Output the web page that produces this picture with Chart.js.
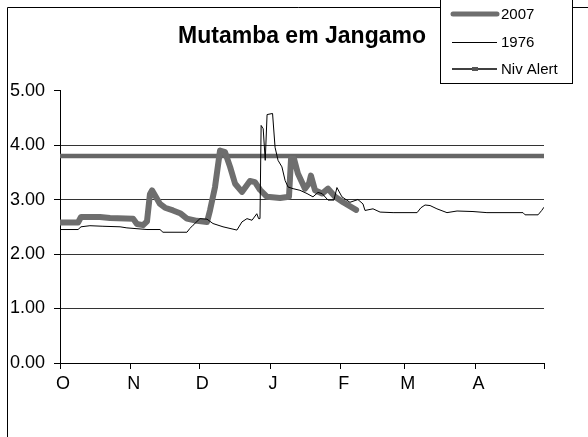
<!doctype html>
<html lang="pt">
<head>
<meta charset="UTF-8" />
<title>Mutamba em Jangamo</title>
<style>
  html, body { margin: 0; padding: 0; background: #fff; }
  #chart { display: block; }
</style>
</head>
<body>
<canvas id="chart" width="588" height="437"></canvas>
<script src="https://cdn.jsdelivr.net/npm/chart.js@4"></script>
<script>
    // x values are days counted from 1 October
    const MONTH_DAYS = [0, 31, 61, 92, 123, 151, 182, 212];
    const MONTH_LABELS = ['O', 'N', 'D', 'J', 'F', 'M', 'A', ''];

    const days2007 = [0, 7.9, 9.2, 17.5, 21.9, 32, 33.7, 36.4, 38.1, 39.4, 40.3, 43.8, 46, 49.5, 52.6,
        55.6, 60, 64.4, 65.7, 67.9, 70.1, 72.3, 74.5, 76.7, 79.7, 83.2, 85.4, 87.6, 90.7, 96.4,
        100.3, 101.2, 102.5, 104.2, 107.3, 109.1, 109.9, 111.7, 114.8, 117.4, 120.5, 124, 129.7];
    const level2007 = [2.58, 2.58, 2.68, 2.68, 2.66, 2.65, 2.55, 2.53, 2.60, 3.10, 3.17, 2.92, 2.85, 2.80, 2.75,
        2.65, 2.61, 2.59, 2.80, 3.23, 3.90, 3.87, 3.60, 3.29, 3.14, 3.34, 3.32, 3.18, 3.05, 3.03,
        3.05, 3.75, 3.75, 3.48, 3.20, 3.30, 3.44, 3.17, 3.11, 3.20, 3.05, 2.95, 2.81];

    const days1976 = [0, 7.9, 9.2, 13.1, 18.8, 26.3, 29.3, 38.1, 43.8, 45.1, 55.6, 56.9, 58.3, 61.3, 64.4,
        67, 71.4, 77.5, 79.7, 81.9, 84.1, 86.2, 87.0, 87.6, 88.1, 89.0, 89.9, 90.7, 93.1, 94.2,
        95.5, 97.2, 98.6, 99.9, 102.1, 105.1, 108.2, 110.8, 113, 114.8, 117.4, 120, 121.3, 123.5, 127,
        130.5, 132.7, 133.6, 137.1, 140.2, 145.9, 156.4, 158.1, 159.9, 162.1, 165.1, 169.5, 173.9, 180.9, 187,
        202.8, 203.7, 209.4, 211, 212];
    const level1976 = [2.45, 2.45, 2.50, 2.52, 2.51, 2.50, 2.48, 2.45, 2.45, 2.40, 2.40, 2.47, 2.53, 2.65, 2.64,
        2.56, 2.50, 2.44, 2.59, 2.65, 2.62, 2.74, 2.65, 2.65, 4.36, 4.30, 3.72, 4.56, 4.58, 3.96,
        3.72, 3.60, 3.35, 3.23, 3.20, 3.17, 3.11, 3.05, 3.13, 3.11, 2.99, 2.99, 3.22, 3.05, 2.95,
        3.00, 2.92, 2.80, 2.83, 2.77, 2.76, 2.76, 2.85, 2.90, 2.89, 2.83, 2.76, 2.79, 2.78, 2.76,
        2.76, 2.72, 2.72, 2.80, 2.86];

    const alertDays = [0, 212];
    const alertLevel = [3.8, 3.8];

    const FONT = '"Liberation Sans", Arial, sans-serif';

    function points(xs, ys) {
        return xs.map((x, i) => ({ x: x, y: ys[i] }));
    }

    // White page with the outer chart frame (left and top edges only show).
    const frame = {
        id: 'frame',
        beforeDraw(chart) {
            let c = chart.ctx;
            c.save();
            c.fillStyle = '#fff';
            c.fillRect(0, 0, chart.width, chart.height);
            c.strokeStyle = '#000';
            c.lineWidth = 1;
            c.beginPath();
            c.moveTo(7.5, chart.height + 2);
            c.lineTo(7.5, 7.5);
            c.lineTo(chart.width + 2, 7.5);
            c.stroke();
            c.restore();
        },
    };

    // Boxed legend in the top right corner.
    const boxLegend = {
        id: 'boxLegend',
        afterDraw(chart) {
            let c = chart.ctx;
            let rows = [14, 42, 69];
            c.save();
            c.fillStyle = '#fff';
            c.fillRect(440, -1, 133, 85);
            c.strokeStyle = '#000';
            c.lineWidth = 1;
            c.strokeRect(440.5, -1, 132, 84.5);

            // 2007
            c.strokeStyle = '#6e6e6e';
            c.lineWidth = 5;
            c.lineCap = 'round';
            c.beginPath();
            c.moveTo(453, rows[0]);
            c.lineTo(497, rows[0]);
            c.stroke();

            // 1976
            c.strokeStyle = '#000';
            c.lineWidth = 1;
            c.lineCap = 'butt';
            c.beginPath();
            c.moveTo(452, rows[1] + 0.5);
            c.lineTo(497, rows[1] + 0.5);
            c.stroke();

            // Niv Alert
            c.lineWidth = 1.5;
            c.beginPath();
            c.moveTo(452, rows[2]);
            c.lineTo(497, rows[2]);
            c.stroke();
            c.fillStyle = '#555';
            c.fillRect(472, rows[2] - 2, 6, 4);

            c.fillStyle = '#000';
            c.font = '15px ' + FONT;
            c.textBaseline = 'middle';
            let labels = ['2007', '1976', 'Niv Alert'];
            labels.forEach((t, i) => c.fillText(t, 501, rows[i] + 1));
            c.restore();
        },
    };

    const ctx = document.getElementById('chart');

    new Chart(ctx, {
        type: 'line',
        data: {
            datasets: [
                {
                    label: '1976',
                    data: points(days1976, level1976),
                    borderColor: '#000',
                    borderWidth: 1,
                    pointRadius: 0,
                    order: 0,
                },
                {
                    label: '2007',
                    data: points(days2007, level2007),
                    borderColor: '#6e6e6e',
                    borderWidth: 6,
                    borderJoinStyle: 'round',
                    borderCapStyle: 'round',
                    pointRadius: 0,
                    order: 1,
                },
                {
                    label: 'Niv Alert',
                    data: points(alertDays, alertLevel),
                    borderColor: '#666',
                    borderWidth: 4.5,
                    pointRadius: 0,
                    order: 2,
                },
            ],
        },
        options: {
            responsive: false,
            animation: false,
            devicePixelRatio: 1,
            layout: { padding: { left: 0, right: 44, top: 0, bottom: 0 } },
            plugins: {
                legend: { display: false },
                tooltip: { enabled: false },
                title: {
                    display: true,
                    text: 'Mutamba em Jangamo',
                    color: '#000',
                    fullSize: false,
                    font: { family: FONT, size: 23, weight: 'bold' },
                    padding: { top: 23, bottom: 40 },
                },
            },
            scales: {
                x: {
                    type: 'linear',
                    min: 0,
                    max: 212,
                    afterBuildTicks(s) {
                        s.ticks = MONTH_DAYS.map((v) => ({ value: v }));
                    },
                    afterFit(s) {
                        s.height = 74;
                    },
                    ticks: {
                        autoSkip: false,
                        maxRotation: 0,
                        labelOffset: 3,
                        padding: 4,
                        color: '#000',
                        font: { family: FONT, size: 18 },
                        callback: (v) => MONTH_LABELS[MONTH_DAYS.indexOf(v)],
                    },
                    grid: { drawOnChartArea: false, tickLength: 6, color: '#000' },
                    border: { color: '#000', width: 1 },
                },
                y: {
                    min: 0,
                    max: 5,
                    afterFit(s) {
                        s.width = 60;
                    },
                    ticks: {
                        stepSize: 1,
                        padding: 9,
                        color: '#000',
                        font: { family: FONT, size: 18 },
                        callback: (v) => v.toFixed(2),
                    },
                    grid: {
                        color: (c) => (c.tick && c.tick.value === 5 ? 'rgba(0,0,0,0)' : '#333'),
                        tickColor: '#000',
                        tickLength: 6,
                    },
                    border: { color: '#000', width: 1 },
                },
            },
        },
        plugins: [frame, boxLegend],
    });
</script>
</body>
</html>
